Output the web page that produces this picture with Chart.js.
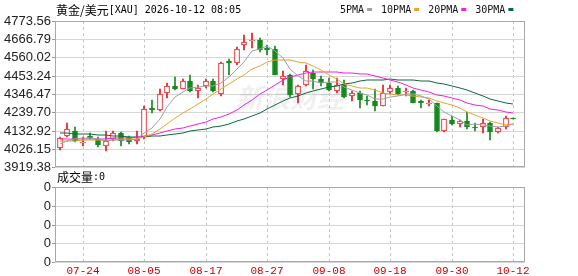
<!DOCTYPE html>
<html><head><meta charset="utf-8">
<script src="https://cdn.jsdelivr.net/npm/chart.js@4/dist/chart.umd.min.js"></script>
<style>
html,body{margin:0;padding:0;background:#fff;}
#wrap{position:relative;width:578px;height:276px;overflow:hidden;}
canvas{position:absolute;left:0;top:0;}
</style></head><body>
<div id="wrap"><canvas id="main" width="578" height="276"></canvas><canvas id="vol" width="578" height="276"></canvas></div>
<script>
const titleName = '黄金/美元';
const titleRest = '[XAU] 2026-10-12 08:05';
const volTitleName = '成交量';
const volTitleRest = ':0';
const maNames = ['5PMA','10PMA','20PMA','30PMA'];
const maColors = ['#a0a0a0','#e8a32e','#f020e0','#0b6a3c'];

const dates = ['07-21','07-22','07-23','07-24','07-27','07-28','07-29','07-30','07-31','08-03',
 '08-04','08-05','08-06','08-07','08-10','08-11','08-12','08-13','08-14','08-17',
 '08-18','08-19','08-20','08-21','08-24','08-25','08-26','08-27','08-28','08-31',
 '09-01','09-02','09-03','09-04','09-07','09-08','09-09','09-10','09-11','09-14',
 '09-15','09-16','09-17','09-18','09-21','09-22','09-23','09-24','09-25','09-28',
 '09-29','09-30','10-01','10-02','10-05','10-06','10-07','10-08','10-09','10-12'];
const xTickDates = ['07-24','08-05','08-17','08-27','09-08','09-18','09-30','10-12'];

const open = [4030,4101,4130,4062,4100,4082,4040,4086,4121,4092, 4070,4094,4266,4252,4353,4396,4378,4421,4365,4392,
 4425,4344,4541,4528,4634,4659,4663,4615,4609,4435, 4460,4348,4398,4470,4436,4411,4363,4406,4334,4353,
 4310,4305,4279,4357,4382,4357,4363,4305,4289,4291, 4130,4192,4173,4188,4154,4156,4175,4127,4156,4204];
const high = [4094,4179,4154,4092,4121,4092,4130,4130,4125,4101, 4128,4274,4314,4378,4408,4446,4435,4460,4402,4435,
 4435,4531,4551,4624,4692,4702,4673,4634,4628,4479, 4466,4402,4518,4489,4450,4441,4441,4431,4363,4363,
 4334,4373,4402,4402,4392,4382,4368,4314,4314,4295, 4202,4217,4194,4241,4179,4198,4183,4156,4217,4208];
const low = [4018,4094,4063,4043,4082,4034,4014,4072,4043,4053, 4053,4082,4237,4247,4324,4368,4373,4357,4324,4382,
 4357,4334,4460,4518,4601,4615,4595,4576,4455,4402, 4330,4295,4392,4373,4392,4363,4353,4324,4305,4266,
 4285,4246,4275,4349,4338,4334,4291,4266,4275,4127, 4127,4163,4154,4140,4130,4121,4078,4121,4144,4198];
const close = [4088,4140,4072,4067,4088,4047,4072,4121,4072,4066, 4085,4256,4252,4349,4396,4378,4421,4363,4382,4425,
 4363,4528,4528,4609,4653,4663,4605,4605,4460,4454, 4338,4392,4479,4436,4411,4367,4402,4328,4353,4314,
 4305,4275,4353,4382,4349,4363,4295,4291,4295,4130, 4198,4169,4188,4156,4146,4179,4127,4150,4208,4201];

const ma5 = [4055,4072,4082,4088,4091,4083,4069,4079,4080,4076, 4083,4120,4146,4202,4268,4326,4359,4381,4388,4394,
 4391,4412,4445,4491,4536,4596,4612,4627,4597,4557, 4492,4450,4425,4420,4411,4417,4419,4389,4372,4353,
 4340,4315,4320,4326,4333,4344,4348,4336,4319,4275, 4242,4217,4196,4168,4171,4168,4159,4152,4162,4173];
const ma10 = [4070,4073,4074,4075,4077,4077,4078,4080,4081,4083, 4083,4095,4113,4141,4172,4205,4235,4258,4286,4318,
 4347,4376,4405,4432,4460,4490,4510,4534,4543,4547, 4544,4531,4526,4509,4484,4455,4434,4407,4396,4382,
 4379,4367,4354,4349,4343,4342,4332,4328,4322,4304, 4293,4283,4266,4243,4223,4205,4188,4174,4165,4172];
const ma20 = [4082,4083,4083,4083,4084,4084,4085,4087,4088,4089, 4092,4100,4108,4118,4129,4140,4150,4161,4172,4185,
 4198,4213,4231,4254,4282,4314,4344,4372,4400,4428, 4446,4456,4468,4474,4474,4474,4473,4471,4470,4464,
 4462,4449,4440,4429,4414,4399,4383,4367,4359,4343, 4336,4325,4310,4296,4283,4274,4260,4251,4244,4238];
const ma30 = [4118,4116,4114,4112,4110,4107,4104,4101,4099,4097, 4095,4096,4098,4101,4106,4113,4120,4128,4136,4144,
 4152,4162,4173,4186,4200,4217,4236,4256,4280,4305, 4325,4337,4351,4363,4374,4385,4396,4403,4412,4420,
 4427,4428,4431,4432,4430,4430,4426,4423,4420,4410, 4405,4393,4382,4367,4350,4334,4318,4303,4294,4286];
const volume = [0,0,0,0,0,0,0,0,0,0, 0,0,0,0,0,0,0,0,0,0, 0,0,0,0,0,0,0,0,0,0,
 0,0,0,0,0,0,0,0,0,0, 0,0,0,0,0,0,0,0,0,0, 0,0,0,0,0,0,0,0,0,0];

const yTicks = [3919.38,4026.15,4132.92,4239.70,4346.47,4453.24,4560.02,4666.79,4773.56];
const volTicks = [0,1,2,3,4];
const volTickLabels = ['0','0','0','0','0'];

const UP = '#e3191e', DOWN = '#138a1c';
const xTickIdx = xTickDates.map(d => dates.indexOf(d));
const idx = dates.map((d, i) => i);
const isUp = idx.map(i => close[i] >= open[i]);

const boxPlugin = {
  id: 'box',
  afterDraw(chart) {
    const {ctx, chartArea: a} = chart;
    ctx.save();
    ctx.strokeStyle = '#a8a8a8'; ctx.lineWidth = 1;
    ctx.strokeRect(Math.round(a.left) + 0.5, Math.round(a.top) + 0.5,
      Math.round(a.right - a.left) - 1, Math.round(a.bottom - a.top) - 1);
    ctx.restore();
  }
};

const textPlugin = {
  id: 'texts',
  beforeDatasetsDraw(chart) {
    const {ctx, chartArea: a} = chart;
    ctx.save();
    ctx.font = 'italic bold 27px "Noto Sans CJK SC"';
    ctx.fillStyle = 'rgba(0,0,0,0.06)';
    ctx.textAlign = 'center'; ctx.textBaseline = 'middle';
    ctx.fillText('新浪财经', (a.left + a.right) / 2, (a.top + a.bottom) / 2 + 4);
    ctx.restore();
  },
  afterDraw(chart) {
    const {ctx} = chart;
    ctx.save();
    ctx.textBaseline = 'middle'; ctx.textAlign = 'left'; ctx.fillStyle = '#000';
    ctx.font = '12px "Noto Sans CJK SC"';
    ctx.fillText(titleName, 56, 10);
    let w = ctx.measureText(titleName).width;
    ctx.font = '10px "DejaVu Sans Mono"';
    ctx.fillText(titleRest, 56 + w, 10);
    let x = 340;
    maNames.forEach((n, k) => {
      ctx.font = '10px "DejaVu Sans Mono"';
      ctx.fillStyle = '#111';
      ctx.fillText(n, x, 10);
      x += ctx.measureText(n).width + 3;
      ctx.fillStyle = maColors[k];
      ctx.fillRect(x, 8, 5, 3);
      x += 5 + 9;
    });
    ctx.fillStyle = '#000';
    ctx.font = '12px "Noto Sans CJK SC"';
    ctx.fillText(volTitleName, 57, 177);
    w = ctx.measureText(volTitleName).width;
    ctx.font = '10px "DejaVu Sans Mono"';
    ctx.fillText(volTitleRest, 57 + w, 177);
    ctx.restore();
  }
};

function maSet(arr, k) {
  return { type: 'line', data: idx.map(i => ({x: i, y: arr[i]})), borderColor: maColors[k],
    borderWidth: 1, pointRadius: 0, fill: false, tension: 0, order: 0 };
}

const xCommon = {
  type: 'linear', min: -0.6, max: 60.5, offset: false, alignToPixels: true,
  afterBuildTicks: s => { s.ticks = xTickIdx.map(v => ({value: v})); },
  grid: { color: '#c4c4c4', drawTicks: false, offset: false, lineWidth: 1 },
  border: { display: false, dash: [3, 3] }
};

new Chart(document.getElementById('main'), {
  type: 'bar',
  data: {
    datasets: [
      maSet(ma5, 0), maSet(ma10, 1), maSet(ma20, 2), maSet(ma30, 3),
      { label: 'body', data: idx.map(i => ({x: i, y: [open[i], close[i]]})),
        backgroundColor: idx.map(i => isUp[i] ? '#ffffff' : DOWN),
        borderColor: idx.map(i => isUp[i] ? UP : DOWN),
        borderWidth: 1, borderSkipped: false, barThickness: 5, minBarLength: 1, grouped: false, order: 1 },
      { label: 'wick', data: idx.map(i => ({x: i, y: [low[i], high[i]]})),
        backgroundColor: idx.map(i => isUp[i] ? UP : DOWN),
        borderWidth: 0, barThickness: 1, grouped: false, order: 2 }
    ]
  },
  options: {
    responsive: false, animation: false, devicePixelRatio: 1,
    layout: { padding: { top: 21, right: 53, bottom: 109, left: 0 } },
    plugins: { legend: { display: false }, tooltip: { enabled: false } },
    scales: {
      x: Object.assign({}, xCommon, { ticks: { display: false }, afterFit: s => { s.height = 0; } }),
      y: {
        min: 3919.38, max: 4773.56, alignToPixels: true,
        afterBuildTicks: s => { s.ticks = yTicks.map(v => ({value: v})); },
        afterFit: s => { s.width = 55; },
        ticks: { callback: v => v.toFixed(2), color: '#222', padding: 1, autoSkip: false,
          font: { family: 'Liberation Sans', size: 13 } },
        grid: { color: '#d6d6d6', tickColor: '#999', tickLength: 3, lineWidth: 1 },
        border: { display: false }
      }
    }
  },
  plugins: [boxPlugin, textPlugin]
});

new Chart(document.getElementById('vol'), {
  type: 'bar',
  data: { datasets: [ { data: idx.map(i => ({x: i, y: volume[i]})), backgroundColor: '#888', barThickness: 5 } ] },
  options: {
    responsive: false, animation: false, devicePixelRatio: 1,
    layout: { padding: { top: 187, right: 53, bottom: 0, left: 0 } },
    plugins: { legend: { display: false }, tooltip: { enabled: false } },
    scales: {
      x: Object.assign({}, xCommon, {
        afterFit: s => { s.height = 14; },
        ticks: { callback: v => dates[v], color: '#cc0000', autoSkip: false, maxRotation: 0, padding: 2,
          font: { family: 'Liberation Mono', size: 11 } }
      }),
      y: {
        min: 0, max: 4, alignToPixels: true,
        afterBuildTicks: s => { s.ticks = volTicks.map(v => ({value: v})); },
        afterFit: s => { s.width = 55; },
        ticks: { callback: (v, i) => volTickLabels[i], color: '#222', padding: 1, autoSkip: false,
          font: { family: 'Liberation Sans', size: 13 } },
        grid: { color: '#d6d6d6', tickColor: '#999', tickLength: 3, lineWidth: 1 },
        border: { display: false }
      }
    }
  },
  plugins: [boxPlugin]
});
</script>
</body></html>
